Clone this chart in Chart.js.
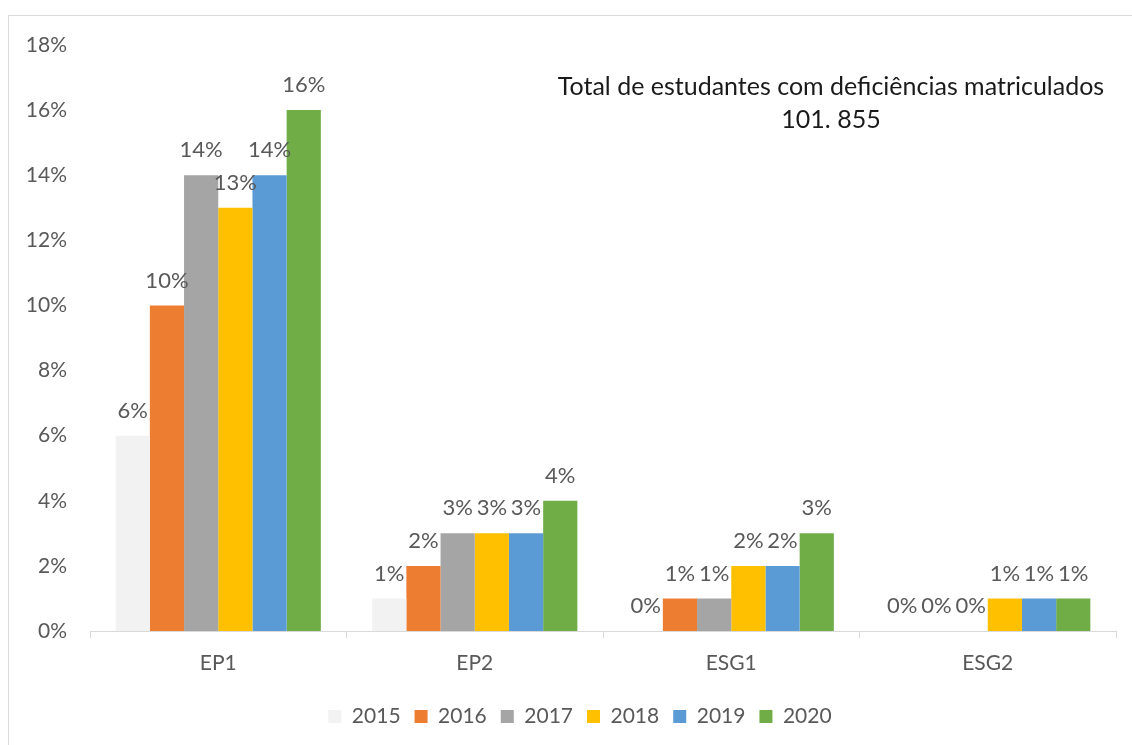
<!DOCTYPE html>
<html>
<head>
<meta charset="utf-8">
<script src="https://cdn.jsdelivr.net/npm/chart.js@4/dist/chart.umd.min.js"></script>
<style>
  html, body { margin: 0; padding: 0; background: #fff; overflow: hidden; }
  #wrap { position: relative; width: 1132px; height: 745px; }
  #frame {
    position: absolute; left: 8px; top: 15px; width: 1200px; height: 800px;
    border: 1px solid #d9d9d9; pointer-events: none;
  }
  #note {
    position: absolute; left: 481px; top: 69px; width: 700px;
    text-align: center; font-family: Lato, sans-serif; font-size: 25px;
    line-height: 33px; color: #1a1a1a;
  }
</style>
</head>
<body>
<div id="wrap">
  <canvas id="chart" width="1132" height="745"></canvas>
  <div id="frame"></div>
  <div id="note">Total de estudantes com deficiências matriculados<br>101. 855</div>
</div>
<script>
// ---------------------------------------------------------
// DATA (percent of enrolled students with disabilities)
// ---------------------------------------------------------
const categories = ["EP1", "EP2", "ESG1", "ESG2"];
const years = ["2015", "2016", "2017", "2018", "2019", "2020"];

const values2015 = [6, 1, 0, 0];
const values2016 = [10, 2, 1, 0];
const values2017 = [14, 3, 1, 0];
const values2018 = [13, 3, 2, 1];
const values2019 = [14, 3, 2, 1];
const values2020 = [16, 4, 3, 1];

const yTicks = [0, 2, 4, 6, 8, 10, 12, 14, 16, 18];

const seriesValues = [values2015, values2016, values2017, values2018, values2019, values2020];
const seriesColors = ["#F2F2F2", "#ED7D31", "#A5A5A5", "#FFC000", "#5B9BD5", "#70AD47"];

const TEXT_COLOR = "#595959";
const FONT_FAMILY = "Lato, sans-serif";

// draws the "6%", "10%" ... labels above each bar
const barLabels = {
  id: "barLabels",
  afterDatasetsDraw(chart) {
    const ctx = chart.ctx;
    ctx.save();
    ctx.font = "22px " + FONT_FAMILY;
    ctx.fillStyle = TEXT_COLOR;
    ctx.textAlign = "center";
    ctx.textBaseline = "middle";
    chart.data.datasets.forEach((ds, i) => {
      chart.getDatasetMeta(i).data.forEach((bar, j) => {
        ctx.fillText(ds.data[j] + "%", bar.x, bar.y - 25);
      });
    });
    ctx.restore();
  },
};

// the legend in the original sits a little right of centre
const legendNudge = {
  id: "legendNudge",
  afterLayout(chart) {
    if (chart.legend) {
      chart.legend.left += 22;
      chart.legend.right += 22;
    }
  },
};

const datasets = years.map((year, i) => ({
  label: year,
  data: seriesValues[i],
  backgroundColor: seriesColors[i],
  borderWidth: 0,
  categoryPercentage: 0.8,
  barPercentage: 1.0,
}));

new Chart(document.getElementById("chart"), {
  type: "bar",
  data: { labels: categories, datasets: datasets },
  plugins: [barLabels, legendNudge],
  options: {
    responsive: false,
    animation: false,
    layout: { padding: { top: 45, right: 16, bottom: 8, left: 0 } },
    plugins: {
      tooltip: { enabled: false },
      legend: {
        position: "bottom",
        labels: {
          color: TEXT_COLOR,
          font: { family: FONT_FAMILY, size: 21 },
          boxWidth: 13,
          boxHeight: 13,
          padding: 14,
        },
      },
    },
    scales: {
      x: {
        grid: {
          offset: true,
          drawOnChartArea: false,
          drawTicks: true,
          tickLength: 7,
          color: "#D9D9D9",
        },
        border: { display: true, color: "#D9D9D9" },
        ticks: {
          color: TEXT_COLOR,
          font: { family: FONT_FAMILY, size: 21 },
          padding: 13,
        },
        afterFit(scale) { scale.height = 61; },
      },
      y: {
        min: 0,
        max: 18,
        grid: { display: false },
        border: { display: false },
        afterBuildTicks(scale) { scale.ticks = yTicks.map((v) => ({ value: v })); },
        ticks: {
          color: TEXT_COLOR,
          font: { family: FONT_FAMILY, size: 21 },
          padding: 15,
          callback: (v) => v + "%",
        },
        afterFit(scale) { scale.width = 90; },
      },
    },
  },
});
</script>
</body>
</html>
